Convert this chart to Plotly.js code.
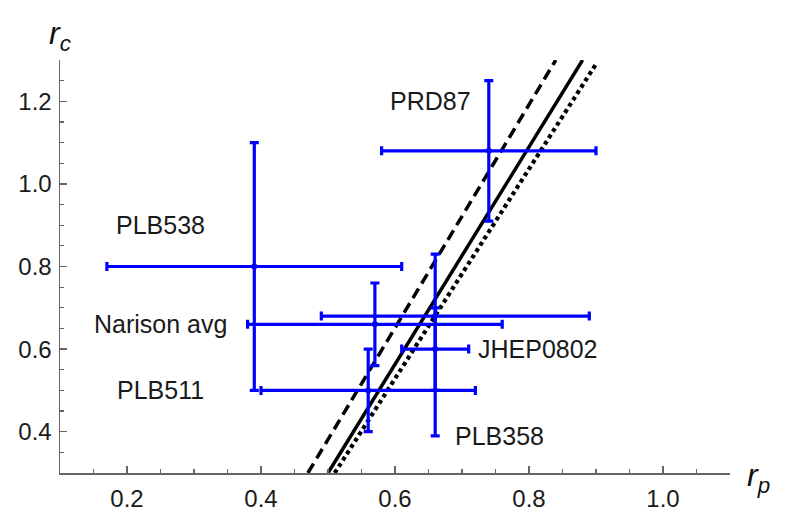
<!DOCTYPE html>
<html>
<head>
<meta charset="utf-8">
<script src="https://cdn.plot.ly/plotly-3.0.1.min.js"></script>
<style>
  html, body { margin: 0; padding: 0; background: #fff; }
  #plot { width: 792px; height: 526px; }
</style>
</head>
<body>
<div id="plot"></div>
<script>
var names = ["PRD87", "PLB538", "Narison avg", "PLB358", "JHEP0802", "PLB511"];
var rp = [0.74, 0.39, 0.57, 0.66, 0.66, 0.56];
var rc = [1.08, 0.80, 0.66, 0.68, 0.60, 0.50];
var rpPlus = [0.16, 0.22, 0.19, 0.23, 0.05, 0.16];
var rpMinus = [0.16, 0.22, 0.19, 0.17, 0.05, 0.16];
var rcPlus = [0.17, 0.30, 0.10, 0.15, 0.10, 0.10];
var rcMinus = [0.17, 0.30, 0.10, 0.29, 0.10, 0.10];

// the three straight bands (endpoints read at the plot edges)
var solidX = [0.50, 0.88];
var solidY = [0.30, 1.30];
var dashX = [0.47, 0.84];
var dashY = [0.30, 1.30];
var dotX = [0.51, 0.90];
var dotY = [0.30, 1.29];

var blue = "#0000ff";

var points = {
  x: rp,
  y: rc,
  text: names,
  type: "scatter",
  mode: "markers",
  marker: { color: blue, size: 6 },
  error_x: {
    type: "data", symmetric: false, array: rpPlus, arrayminus: rpMinus,
    color: blue, thickness: 3.2, width: 4.5
  },
  error_y: {
    type: "data", symmetric: false, array: rcPlus, arrayminus: rcMinus,
    color: blue, thickness: 3.2, width: 4.5
  },
  hoverinfo: "text+x+y"
};

function band(xs, ys, dash, w) {
  return {
    x: xs, y: ys, type: "scatter", mode: "lines",
    line: { color: "#000", width: w, dash: dash }
  };
}

var data = [
  band(dashX, dashY, "11px,6px", 3.5),
  band(solidX, solidY, "solid", 3.5),
  band(dotX, dotY, "4px,3.5px", 4.2),
  points
];

var fam = "Liberation Sans, Arial, sans-serif";
var tickFont = { family: fam, size: 24, color: "#1a1a1a" };
var labelFont = { family: fam, size: 25, color: "#1a1a1a" };

function label(txt, x, y) {
  return { text: txt, x: x, y: y, xref: "x", yref: "y", showarrow: false, font: labelFont };
}

var axisCommon = {
  showgrid: false, zeroline: false, showline: true, linecolor: "#666", linewidth: 1.5,
  ticks: "inside", ticklen: 7, tickwidth: 1.5, tickcolor: "#666",
  tickfont: tickFont, tickformat: ".1f",
  minor: { dtick: 0.05, ticks: "inside", ticklen: 4, tickwidth: 1.2, tickcolor: "#666" }
};

var layout = {
  width: 792, height: 526,
  margin: { l: 60, r: 62, t: 60, b: 53 },
  showlegend: false,
  paper_bgcolor: "#fff", plot_bgcolor: "#fff",
  xaxis: Object.assign({}, axisCommon, {
    range: [0.1, 1.1], tick0: 0.2, dtick: 0.2, ticklabelstandoff: 4
  }),
  yaxis: Object.assign({}, axisCommon, {
    range: [0.3, 1.3], tick0: 0.4, dtick: 0.2, ticklabelstandoff: 2
  }),
  annotations: [
    label("PRD87", 0.653, 1.2),
    label("PLB538", 0.25, 0.9),
    label("Narison avg", 0.25, 0.66),
    label("PLB511", 0.25, 0.5),
    label("JHEP0802", 0.813, 0.6),
    label("PLB358", 0.756, 0.39),
    {
      text: "<i>r<sub>c</sub></i>", xref: "paper", yref: "paper", x: -0.02, y: 1.115,
      showarrow: false, font: { family: fam, size: 32, color: "#111" }
    },
    {
      text: "<i>r<sub>p</sub></i>", xref: "paper", yref: "paper", x: 1.063, y: -0.065,
      showarrow: false, font: { family: fam, size: 32, color: "#111" }
    }
  ]
};

Plotly.newPlot("plot", data, layout, { displayModeBar: false, staticPlot: true });
</script>
</body>
</html>
